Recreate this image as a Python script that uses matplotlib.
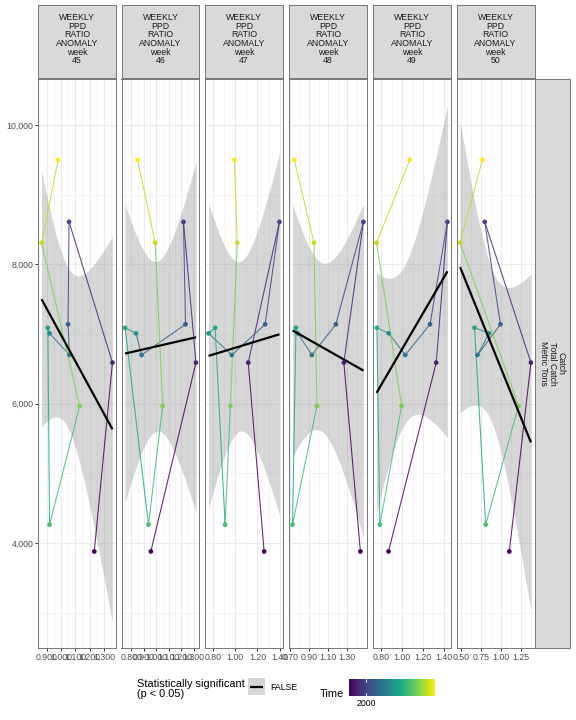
import numpy as np
import matplotlib
matplotlib.use('Agg')
import matplotlib.pyplot as plt
from matplotlib.collections import LineCollection
from matplotlib import cm, colors as mcolors

plt.rcParams['font.family'] = ['Liberation Sans', 'DejaVu Sans']

# data, one row per year
years = [1998, 1999, 2000, 2001, 2002, 2003, 2004, 2005, 2006, 2007, 2008]
catch = [3880, 6590, 8610, 7140, 6700, 7010, 7090, 4265, 5970, 8310, 9500]

weeks = [45, 46, 47, 48, 49, 50]
ppd_45 = [1.233, 1.360, 1.057, 1.050, 1.060, 0.921, 0.909, 0.921, 1.131, 0.865, 0.981]
ppd_46 = [0.956, 1.318, 1.218, 1.234, 0.882, 0.837, 0.749, 0.937, 1.051, 0.991, 0.850]
ppd_47 = [1.260, 1.118, 1.397, 1.269, 0.971, 0.763, 0.822, 0.911, 0.958, 1.020, 0.994]
ppd_48 = [1.440, 1.265, 1.472, 1.181, 0.928, 0.779, 0.760, 0.724, 0.981, 0.950, 0.742]
ppd_49 = [0.869, 1.328, 1.436, 1.268, 1.030, 0.871, 0.757, 0.786, 0.995, 0.754, 1.074]
ppd_50 = [1.104, 1.376, 0.795, 0.993, 0.704, 0.849, 0.667, 0.807, 1.220, 0.485, 0.766]
ppd_all = [ppd_45, ppd_46, ppd_47, ppd_48, ppd_49, ppd_50]

ticks_45 = [0.9, 1.0, 1.1, 1.2, 1.3]
labels_45 = ['0.900', '1.000', '1.100', '1.200', '1.300']
ticks_46 = [0.8, 0.9, 1.0, 1.1, 1.2, 1.3]
labels_46 = ['0.800', '0.900', '1.000', '1.100', '1.200', '1.300']
ticks_47 = [0.8, 1.0, 1.2, 1.4]
labels_47 = ['0.80', '1.00', '1.20', '1.40']
ticks_48 = [0.7, 0.9, 1.1, 1.3]
labels_48 = ['0.70', '0.90', '1.10', '1.30']
ticks_49 = [0.8, 1.0, 1.2, 1.4]
labels_49 = ['0.80', '1.00', '1.20', '1.40']
ticks_50 = [0.5, 0.75, 1.0, 1.25]
labels_50 = ['0.50', '0.75', '1.00', '1.25']
ticks_all = [ticks_45, ticks_46, ticks_47, ticks_48, ticks_49, ticks_50]
labels_all = [labels_45, labels_46, labels_47, labels_48, labels_49, labels_50]

y_ticks = [4000, 6000, 8000, 10000]
y_labels = ['4,000', '6,000', '8,000', '10,000']

W, H = 576, 720


def box(x0, y0, x1, y1):
    '''pixel box (top-left origin) to figure fraction rect.'''
    return [x0 / W, 1 - y1 / H, (x1 - x0) / W, (y1 - y0) / H]


grid_c = '#ebebeb'
border_c = '#7a7a7a'
strip_fill = '#d9d9d9'
axis_txt = '#4d4d4d'
t_val = 2.262157  # t quantile, df = 9, 95%

norm = mcolors.Normalize(vmin=min(years), vmax=max(years))
cmap = plt.get_cmap('viridis')

fig = plt.figure(figsize=(8, 10), dpi=72)

lefts = [38, 121.5, 205, 289, 373, 456.5]
pw = 78
ptop, pbot = 79, 648

for i, wk in enumerate(weeks):
    x = np.array(ppd_all[i])
    y = np.array(catch, dtype=float)
    ax = fig.add_axes(box(lefts[i], ptop, lefts[i] + pw, pbot))

    # limits
    xr = x.max() - x.min()
    ax.set_xlim(x.min() - 0.05 * xr, x.max() + 0.05 * xr)
    ax.set_ylim(2495, 10660)

    # grid
    tk = ticks_all[i]
    step = tk[1] - tk[0]
    minors = [t - step / 2 for t in tk] + [tk[-1] + step / 2]
    for m in minors:
        ax.axvline(m, color=grid_c, lw=0.55, zorder=0)
    for t in tk:
        ax.axvline(t, color=grid_c, lw=1.07, zorder=0)
    for m in [3000, 5000, 7000, 9000]:
        ax.axhline(m, color=grid_c, lw=0.55, zorder=0)
    for t in y_ticks:
        ax.axhline(t, color=grid_c, lw=1.07, zorder=0)

    # lm fit with 95% band
    b, a = np.polyfit(x, y, 1)
    xs = np.linspace(x.min(), x.max(), 80)
    resid = y - (a + b * x)
    s = np.sqrt(np.sum(resid ** 2) / (len(x) - 2))
    sxx = np.sum((x - x.mean()) ** 2)
    se = s * np.sqrt(1 / len(x) + (xs - x.mean()) ** 2 / sxx)
    fit = a + b * xs
    ax.fill_between(xs, fit - t_val * se, fit + t_val * se,
                    color='#999999', alpha=0.4, lw=0, zorder=1)

    # path coloured by start year
    pts = np.column_stack([x, y])
    segs = [pts[k:k + 2] for k in range(len(x) - 1)]
    lc = LineCollection(segs, colors=[cmap(norm(v)) for v in years[:-1]],
                        linewidths=1.07, alpha=0.85, zorder=2)
    ax.add_collection(lc)
    ax.scatter(x, y, c=years, cmap=cmap, norm=norm, s=22, lw=0, zorder=3)

    ax.plot(xs, fit, color='black', lw=2.2, zorder=4, solid_capstyle='butt')

    # axes
    for sp in ax.spines.values():
        sp.set_color(border_c)
        sp.set_linewidth(1.0)
    ax.set_xticks(tk)
    ax.set_xticklabels(labels_all[i])
    ax.xaxis.set_minor_locator(plt.NullLocator())
    ax.tick_params(axis='x', direction='out', length=2.7, width=1.0,
                   color='#333333', labelsize=8.8, labelcolor=axis_txt, pad=2)
    if i == 0:
        ax.set_yticks(y_ticks)
        ax.set_yticklabels(y_labels)
        ax.tick_params(axis='y', direction='out', length=2.7, width=1.0,
                       color='#333333', labelsize=8.8, labelcolor=axis_txt, pad=2)
    else:
        ax.set_yticks([])
    ax.set_facecolor('white')

    # top strip
    sax = fig.add_axes(box(lefts[i], 5, lefts[i] + pw, 78))
    sax.set_facecolor(strip_fill)
    sax.set_xticks([])
    sax.set_yticks([])
    for sp in sax.spines.values():
        sp.set_color(border_c)
        sp.set_linewidth(1.0)
    sax.text(0.5, 0.53, 'WEEKLY\nPPD\nRATIO\nANOMALY\nweek\n{0}'.format(wk),
             transform=sax.transAxes, ha='center', va='center',
             fontsize=8.8, color='#1a1a1a', linespacing=0.95)

# right strip
rax = fig.add_axes(box(535, ptop, 570, pbot))
rax.set_facecolor(strip_fill)
rax.set_xticks([])
rax.set_yticks([])
for sp in rax.spines.values():
    sp.set_color(border_c)
    sp.set_linewidth(1.0)
rax.text(0.5, 0.5, 'Catch\nTotal Catch\nMetric Tons', transform=rax.transAxes,
         ha='center', va='center', rotation=-90, fontsize=8.8,
         color='#1a1a1a', linespacing=0.95)

# legend: significance
fig.text(137 / W, 1 - 689 / H, 'Statistically significant\n(p < 0.05)',
         ha='left', va='center', fontsize=11, linespacing=0.95)
kax = fig.add_axes(box(248, 678, 265, 695))
kax.set_facecolor('#d6d6d6')
kax.set_xlim(0, 1)
kax.set_ylim(0, 1)
kax.plot([0.1, 0.9], [0.5, 0.5], color='black', lw=2.2, solid_capstyle='butt')
kax.set_xticks([])
kax.set_yticks([])
for sp in kax.spines.values():
    sp.set_visible(False)
fig.text(270 / W, 1 - 687 / H, 'FALSE', ha='left', va='center', fontsize=8.8)

# legend: time
fig.text(320 / W, 1 - 694 / H, 'Time', ha='left', va='center', fontsize=11)
cax = fig.add_axes(box(349, 679, 435, 696))
sm = cm.ScalarMappable(norm=norm, cmap=cmap)
cb = fig.colorbar(sm, cax=cax, orientation='horizontal', ticks=[2000])
cb.outline.set_visible(False)
cb.ax.tick_params(direction='in', length=3.4, width=1.0, color='white',
                  labelsize=8.8, pad=3, top=True)
cb.ax.set_xticklabels(['2000'])

fig.savefig('out.png', dpi=72)
